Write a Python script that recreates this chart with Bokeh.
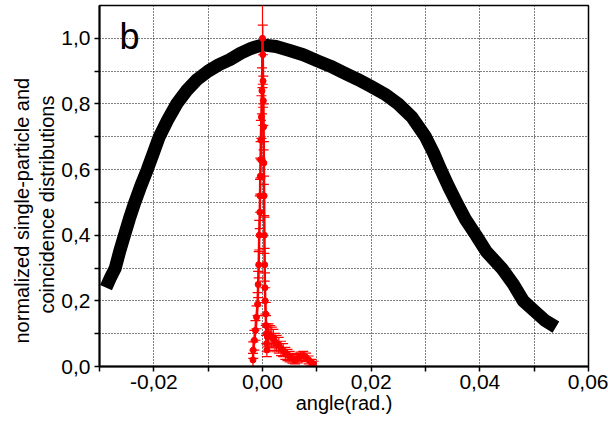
import numpy as np
from bokeh.plotting import figure
from bokeh.models import Range1d, FixedTicker, CustomJSTickFormatter, Label, ColumnDataSource, Title
from bokeh.embed import file_html
from bokeh.resources import INLINE

# single-particle distribution (black)
single_x = [-0.0288, -0.0280, -0.0271, -0.0263, -0.0254, -0.0245, -0.0235, -0.0224,
            -0.0212, -0.0201, -0.0190, -0.0175, -0.0158, -0.0140, -0.0120, -0.0100,
            -0.0080, -0.0060, -0.0040, -0.0020, 0.0000, 0.0025, 0.0050, 0.0075,
            0.0100, 0.0125, 0.0150, 0.0175, 0.0200, 0.0225, 0.0250, 0.0275,
            0.0300, 0.0315, 0.0328, 0.0342, 0.0357, 0.0373, 0.0393, 0.0412,
            0.0440, 0.0462, 0.0480, 0.0500, 0.0520, 0.0540]
single_y = [0.24, 0.27, 0.30, 0.35, 0.40, 0.45, 0.50, 0.55,
            0.60, 0.65, 0.70, 0.75, 0.80, 0.84, 0.875, 0.90,
            0.92, 0.935, 0.955, 0.97, 0.98, 0.975, 0.963, 0.95,
            0.932, 0.915, 0.895, 0.875, 0.853, 0.83, 0.80, 0.76,
            0.70, 0.65, 0.60, 0.55, 0.50, 0.45, 0.40, 0.35,
            0.30, 0.25, 0.20, 0.17, 0.14, 0.12]

# coincidence distribution (red) with error bars
coinc_x = [-0.00175, -0.0017, -0.0015, -0.0013, -0.0011, -0.0009, -0.0008, -0.0007,
           -0.0006, -0.0005, -0.00045, -0.0004, -0.00035, -0.0003, -0.0002, -0.0001,
           0.0,
           0.00005, 0.0001, 0.00015, 0.0002, 0.00025, 0.0003, 0.00035, 0.0004,
           0.00045, 0.0005, 0.0006, 0.00065, 0.0007, 0.00075, 0.0008,
           0.0009, 0.0011, 0.0014, 0.0017, 0.0020, 0.0023, 0.0026, 0.0030,
           0.0034, 0.0038, 0.0042, 0.0046, 0.0050, 0.0055, 0.0060, 0.0065,
           0.0070, 0.0075, 0.0080, 0.0085, 0.0090, 0.0094]
coinc_y = [0.02, 0.05, 0.08, 0.11, 0.15, 0.19, 0.25, 0.31,
           0.40, 0.47, 0.52, 0.58, 0.63, 0.69, 0.76, 0.84,
           1.00,
           0.95, 0.87, 0.81, 0.73, 0.62, 0.52, 0.40, 0.31,
           0.24, 0.20, 0.16, 0.125, 0.10, 0.07, 0.05,
           0.09, 0.10, 0.095, 0.09, 0.085, 0.075, 0.07, 0.065,
           0.055, 0.05, 0.04, 0.035, 0.03, 0.025, 0.022, 0.025,
           0.03, 0.032, 0.028, 0.02, 0.012, 0.008]
coinc_err = [0.02, 0.025, 0.03, 0.03, 0.035, 0.035, 0.04, 0.04,
             0.045, 0.05, 0.05, 0.055, 0.055, 0.06, 0.065, 0.07,
             0.15,
             0.09, 0.08, 0.075, 0.07, 0.065, 0.06, 0.055, 0.05,
             0.045, 0.04, 0.035, 0.03, 0.03, 0.025, 0.02,
             0.03, 0.03, 0.03, 0.03, 0.028, 0.026, 0.025, 0.024,
             0.022, 0.02, 0.018, 0.017, 0.016, 0.015, 0.014, 0.014,
             0.014, 0.014, 0.013, 0.012, 0.01, 0.008]

x_major = [-0.02, 0.0, 0.02, 0.04, 0.06]
x_minor = [-0.03, -0.01, 0.01, 0.03, 0.05]
y_major = [0.0, 0.2, 0.4, 0.6, 0.8, 1.0]
y_minor = [0.1, 0.3, 0.5, 0.7, 0.9]
x_grid = [-0.02, -0.01, 0.0, 0.01, 0.02, 0.03, 0.04, 0.05]
y_grid = [0.1, 0.2, 0.3, 0.4, 0.5, 0.6, 0.7, 0.8, 0.9, 1.0]

x_title = "angle(rad.)"
y_title_lines = ["normalized single-particle and", "coincidence distributions"]

FONT = "Liberation Sans"

p = figure(width=608, height=422, x_range=Range1d(-0.03, 0.06), y_range=Range1d(0, 1.1),
           output_backend="svg", toolbar_location=None,
           min_border_left=99, min_border_right=20, min_border_top=5, min_border_bottom=56)
p.background_fill_color = "white"
p.border_fill_color = "white"
p.outline_line_color = "black"
p.outline_line_width = 1.5

# grid
p.xgrid.ticker = FixedTicker(ticks=x_grid)
p.ygrid.ticker = FixedTicker(ticks=y_grid)
for g in (p.xgrid, p.ygrid):
    g.grid_line_color = "black"
    g.grid_line_dash = "1 2"
    g.grid_line_width = 1
    g.grid_line_alpha = 1.0

# axes
p.xaxis.ticker = FixedTicker(ticks=x_major, minor_ticks=x_minor)
p.yaxis.ticker = FixedTicker(ticks=y_major, minor_ticks=y_minor)
p.xaxis.formatter = CustomJSTickFormatter(code="return tick.toFixed(2).replace('.', ',');")
p.yaxis.formatter = CustomJSTickFormatter(code="return tick.toFixed(1).replace('.', ',');")
for ax in (p.xaxis, p.yaxis):
    ax.axis_line_width = 2
    ax.axis_line_color = "black"
    ax.major_tick_in = 0
    ax.major_tick_out = 5
    ax.minor_tick_in = 0
    ax.minor_tick_out = 5
    ax.major_tick_line_width = 1.5
    ax.minor_tick_line_width = 1.5
    ax.major_label_text_font = FONT
    ax.major_label_text_font_size = "21px"
    ax.major_label_text_color = "black"
    ax.axis_label_text_font = FONT
    ax.axis_label_text_font_size = "20px"
    ax.axis_label_text_font_style = "normal"
    ax.axis_label_text_color = "black"

p.xaxis.axis_label = x_title
p.xaxis.major_label_standoff = 3
p.xaxis.axis_label_standoff = 0
p.yaxis.major_label_standoff = 4

# y title: two side titles (inner line first), each placed along the axis like the original
p.add_layout(Title(text=y_title_lines[1], align="left", offset=53, standoff=1,
                   text_font=FONT, text_font_size="20px", text_font_style="normal",
                   text_color="black"), "left")
p.add_layout(Title(text=y_title_lines[0], align="left", offset=23, standoff=1,
                   text_font=FONT, text_font_size="20px", text_font_style="normal",
                   text_color="black"), "left")

# black single-particle curve
p.line(single_x, single_y, line_width=13, color="black", line_join="round", line_cap="butt")

# red coincidence curve with error bars
ya = np.array(coinc_y)
ea = np.array(coinc_err)
src = ColumnDataSource(dict(x=coinc_x, y=coinc_y, lo=ya - ea, hi=ya + ea))
p.segment(x0="x", y0="lo", x1="x", y1="hi", source=src, color="#ff0000", line_width=1.2)
p.scatter(x="x", y="hi", source=src, marker="dash", size=10, color="#ff0000", line_width=1.2)
p.scatter(x="x", y="lo", source=src, marker="dash", size=10, color="#ff0000", line_width=1.2)
p.line(x="x", y="y", source=src, color="#ff0000", line_width=2.5)
p.scatter(x="x", y="y", source=src, marker="circle", size=6, color="#ff0000")

p.add_layout(Label(x=-0.0263, y=1.005, text="b", text_font=FONT, text_font_size="36px",
                   text_baseline="middle", text_color="black"))

open("out.html", "w").write(file_html(p, INLINE))
